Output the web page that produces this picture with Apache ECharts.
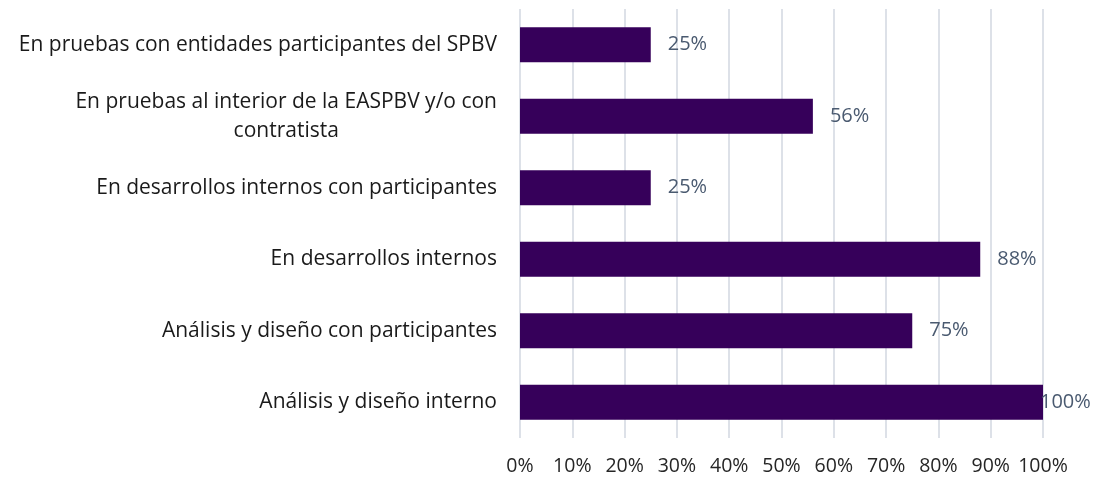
<!DOCTYPE html>
<html>
<head>
<meta charset="utf-8">
<script src="https://cdn.jsdelivr.net/npm/echarts@6/dist/echarts.min.js"></script>
<style>
  html, body { margin: 0; padding: 0; background: #ffffff; }
  #chart { width: 1115px; height: 481px; }
</style>
</head>
<body>
<div id="chart"></div>
<script>
// Stages of the project, listed top to bottom
const categories = [
  'En pruebas con entidades participantes del SPBV',
  'En pruebas al interior de la EASPBV y/o con\ncontratista',
  'En desarrollos internos con participantes',
  'En desarrollos internos',
  'Análisis y diseño con participantes',
  'Análisis y diseño interno'
];
// Share of entities at each stage (%)
const values = [25, 56, 25, 88, 75, 100];
// Horizontal axis ticks (%)
const tickValues = [0, 10, 20, 30, 40, 50, 60, 70, 80, 90, 100];

const axisMax = tickValues[tickValues.length - 1];

const chart = echarts.init(document.getElementById('chart'), null, { renderer: 'canvas' });

chart.setOption({
  animation: false,
  backgroundColor: '#ffffff',
  grid: { left: 520, right: 72, top: 9, bottom: 43, containLabel: false },
  xAxis: {
    type: 'value',
    min: tickValues[0],
    max: axisMax,
    interval: tickValues[1] - tickValues[0],
    axisLine: { show: false },
    axisTick: { show: false },
    splitLine: { show: true, lineStyle: { color: '#dde1e8', width: 2 } },
    axisLabel: {
      formatter: '{value}%',
      color: '#262626',
      fontFamily: 'Open Sans',
      fontSize: 19.5,
      margin: 18
    }
  },
  yAxis: {
    type: 'category',
    inverse: true,
    data: categories,
    axisLine: { show: false },
    axisTick: { show: false },
    axisLabel: {
      margin: 23,
      align: 'right',
      // wrapped names keep their lines centred on each other
      formatter: name => name.split('\n').map(s => '{c|' + s + '}').join('\n'),
      rich: {
        c: {
          align: 'center',
          color: '#1a1a1a',
          fontFamily: 'Open Sans',
          fontSize: 21,
          lineHeight: 29
        }
      }
    }
  },
  series: [{
    type: 'bar',
    barWidth: '49%',
    data: values.map(v => ({
      value: v,
      // a full-length bar keeps its label tucked against the plot edge
      label: v >= axisMax ? { distance: -3 } : undefined
    })),
    itemStyle: { color: '#36005a' },
    label: {
      show: true,
      position: 'right',
      distance: 17,
      formatter: '{c}%',
      color: '#4a5a70',
      fontFamily: 'Open Sans',
      fontSize: 20
    }
  }]
});
</script>
</body>
</html>
